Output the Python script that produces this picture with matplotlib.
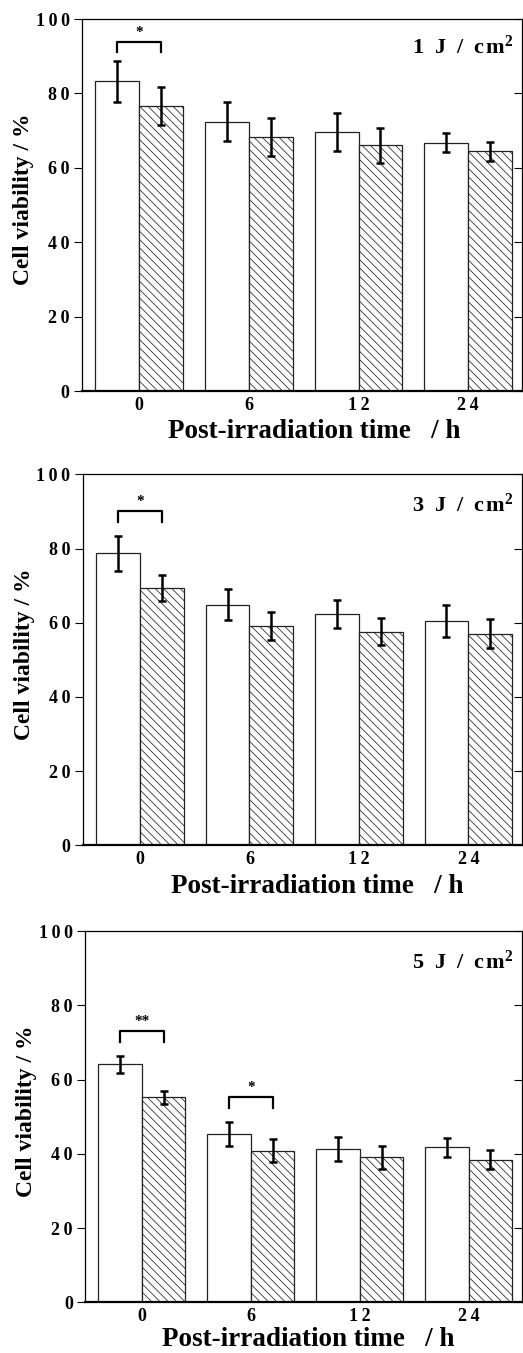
import numpy as np
import matplotlib
matplotlib.use("Agg")
import matplotlib.pyplot as plt

plt.rcParams['font.family'] = ['Liberation Serif', 'DejaVu Serif']
plt.rcParams['font.weight'] = 'bold'
plt.rcParams['mathtext.fontset'] = 'custom'
plt.rcParams['mathtext.rm'] = 'Liberation Serif:bold'
plt.rcParams['mathtext.it'] = 'Liberation Serif:bold'
plt.rcParams['mathtext.bf'] = 'Liberation Serif:bold'
plt.rcParams['hatch.linewidth'] = 0.55
plt.rcParams['hatch.color'] = '#555555'

times = ['0', '6', '12', '24']
doses = ['1', '3', '5']
yticks = [0, 20, 40, 60, 80, 100]

# white bars (control) and hatched bars, mean and error per dose
white_vals = [[83.3, 72.4, 69.7, 66.8],
              [78.7, 64.9, 62.4, 60.5],
              [64.1, 45.3, 41.2, 41.7]]
white_err = [[5.5, 5.2, 5.1, 2.6],
             [4.7, 4.1, 3.7, 4.4],
             [2.25, 3.25, 3.2, 2.65]]
hatch_vals = [[76.7, 68.3, 66.0, 64.4],
              [69.4, 59.1, 57.6, 57.0],
              [55.2, 40.8, 39.0, 38.4]]
hatch_err = [[5.1, 5.0, 4.7, 2.5],
             [3.5, 3.7, 3.7, 3.95],
             [1.75, 3.1, 3.05, 2.55]]

# significance brackets: (group index, bracket height, leg bottom, marker)
brackets = [[(0, 93.9, 91.0, '*')],
            [(0, 90.1, 87.2, '*')],
            [(0, 73.1, 70.2, '**'), (1, 55.2, 52.2, '*')]]

W, H = 523, 1353
# axes boxes in pixels: left, top, bottom
boxes = [(82, 19, 391), (83, 474.3, 845.3), (85.3, 931, 1302.3)]
xlab_pos = [(0.527, -0.110), (0.533, -0.112), (0.51, -0.100)]
dose_y = [0.925, 0.917, 0.917]


def spaced(s, sep='\u2009'):
    return sep.join(s)


fig = plt.figure(figsize=(W / 100, H / 100), dpi=100)
bw = 0.40
x = np.arange(len(times))

for i in range(3):
    left, top, bot = boxes[i]
    ax = fig.add_axes([left / W, 1 - bot / H, (522 - left) / W, (bot - top) / H])
    ax.bar(x - bw / 2, white_vals[i], bw, color='white', edgecolor='#222222', linewidth=0.9)
    ax.bar(x + bw / 2, hatch_vals[i], bw, color='white', edgecolor='#222222', linewidth=0.9,
           hatch='\\\\\\\\')
    ax.errorbar(x - bw / 2, white_vals[i], yerr=white_err[i], fmt='none', ecolor='black',
                elinewidth=1.8, capsize=2.8, capthick=1.8)
    ax.errorbar(x + bw / 2, hatch_vals[i], yerr=hatch_err[i], fmt='none', ecolor='black',
                elinewidth=1.8, capsize=2.8, capthick=1.8)

    for g, yb, yl, mark in brackets[i]:
        x0, x1 = g - bw / 2, g + bw / 2
        ax.plot([x0, x0, x1, x1], [yl, yb, yb, yl], color='black', lw=1.6)
        ax.text(g, yb + 0.8, mark, ha='center', va='bottom',
                fontsize=11, fontweight='bold')

    ax.text(0.98, dose_y[i], doses[i] + '  J  /  c\u200am$^{2}$', transform=ax.transAxes,
            ha='right', va='center', fontsize=16, fontweight='bold')

    ax.set_xlim(-0.52, 3.49)
    ax.set_ylim(0, 100)
    ax.set_yticks(yticks)
    ax.set_yticklabels([spaced(str(v)) for v in yticks])
    ax.set_xticks(x)
    ax.set_xticklabels([spaced(t) for t in times])
    ax.tick_params(axis='x', length=0, pad=4, labelsize=13)
    ax.tick_params(axis='y', which='both', direction='out', length=6, width=0.8,
                   labelsize=13, pad=3)
    ax.tick_params(axis='y', right=True)
    for t in ax.yaxis.get_major_ticks():
        t.tick2line.set_marker(matplotlib.lines.TICKLEFT)
    for s in ax.spines.values():
        s.set_linewidth(0.9)
    ax.spines['bottom'].set_linewidth(1.6)

    ax.set_ylabel('Cell viability / %', fontsize=17, fontweight='bold')
    ax.yaxis.set_label_coords(-0.134, 0.515)
    ax.yaxis.label.set_va('center')
    ax.set_xlabel('Post-irradiation time   / h', fontsize=19.5, fontweight='bold')
    ax.xaxis.set_label_coords(*xlab_pos[i])
    ax.xaxis.label.set_va('center')

fig.savefig('out.png', dpi=100)
